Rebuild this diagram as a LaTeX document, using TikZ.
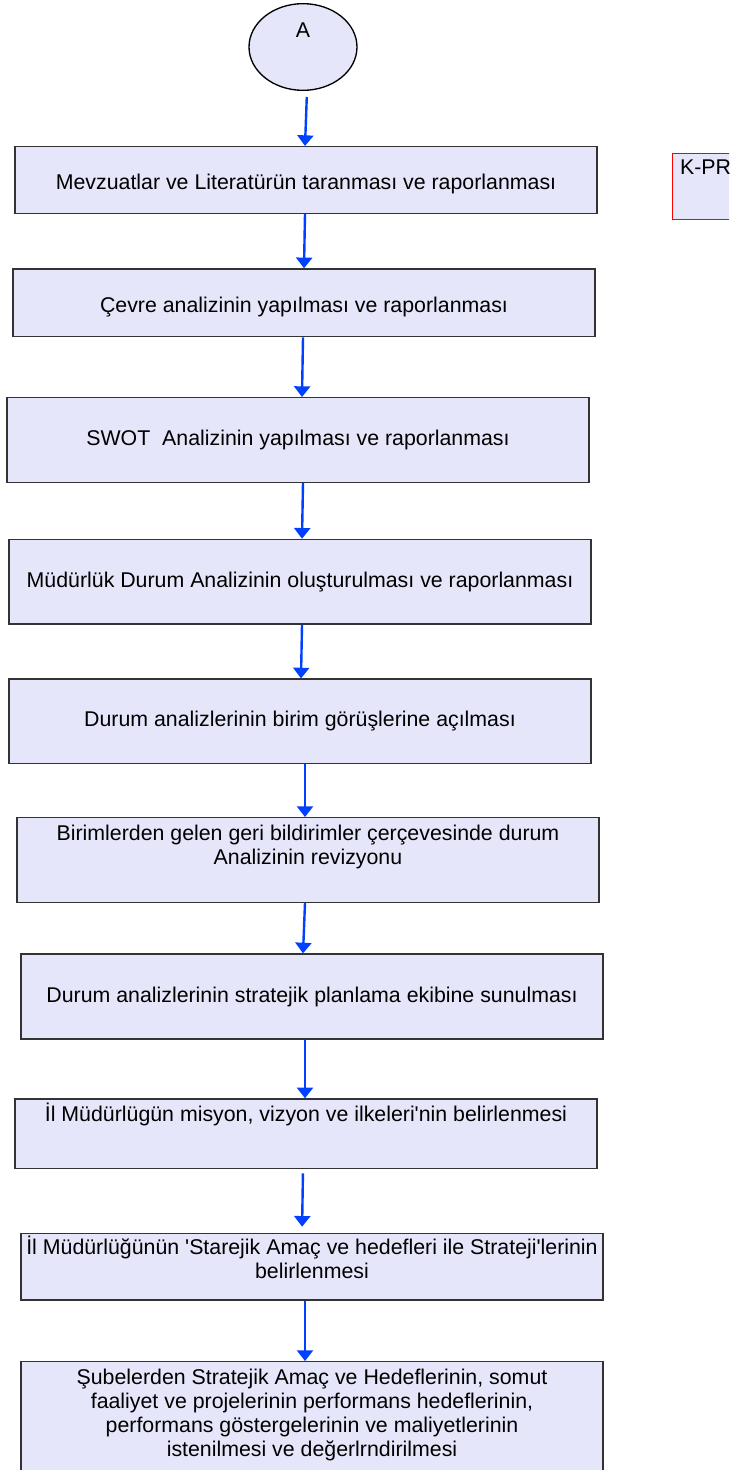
\documentclass[tikz,border=0pt]{standalone}
\usepackage{fontspec}
\setmainfont{Liberation Sans}
\usetikzlibrary{positioning,calc,arrows.meta,shapes.geometric}
\definecolor{lavbox}{RGB}{230,230,250}
\definecolor{flowblue}{RGB}{0,64,255}
\tikzset{procbox/.style={rectangle,draw=black!80,line width=1pt,fill=lavbox,minimum width=436.5pt,inner sep=0pt,align=center,font=\fontsize{16}{18}\selectfont}}
\tikzset{boxtext/.style={inner sep=0pt,align=center,font=\fontsize{16}{18}\selectfont}}
\tikzset{startnode/.style={ellipse,draw=black,line width=1pt,fill=lavbox,minimum width=81pt,minimum height=65pt}}
\tikzset{flow/.style={-{Triangle[width=12pt,length=8pt]},flowblue,line width=1.8pt}}

\begin{document}
\begin{tikzpicture}[x=0.75pt,y=-0.75pt]
  \useasboundingbox (0,0) rectangle (729,1470);
  \clip (0,0) rectangle (729,1470);

  \node[startnode] (A) at (303,47) {};
  \node[boxtext,below=15pt of A.north] (Atxt) {A};

  \node[procbox,minimum height=50pt] (b1) at (306,180) {\raisebox{-3pt}[\height][\depth]{Mevzuatlar ve Literatürün taranması ve raporlanması}};
  \node[procbox,minimum height=50.8pt] (b2) at (304,302.8) {\raisebox{-3pt}[\height][\depth]{Çevre analizinin yapılması ve raporlanması}};
  \node[procbox,minimum height=63.5pt] (b3) at (298,440) {SWOT~ Analizinin yapılması ve raporlanması};
  \node[procbox,minimum height=63.5pt] (b4) at (300,581.7) {Müdürlük Durum Analizinin oluşturulması ve raporlanması};
  \node[procbox,minimum height=63.2pt] (b5) at (300,721.2) {Durum analizlerinin birim görüşlerine açılması};
  \node[procbox,minimum height=63.5pt] (b6) at (308,860) {};
  \node[boxtext,below=5.5pt of b6.north] (t6) {Birimlerden gelen geri bildirimler çerçevesinde durum\\Analizinin revizyonu};
  \node[procbox,minimum height=63.7pt] (b7) at (312,996.5) {Durum analizlerinin stratejik planlama ekibine sunulması};
  \node[procbox,minimum height=52.3pt] (b8) at (306,1133.8) {};
  \node[boxtext,below=3pt of b8.north] (t8) {İl Müdürlügün misyon, vizyon ve ilkeleri\textquotesingle nin belirlenmesi};
  \node[procbox,minimum height=50pt] (b9) at (312,1266.7) {};
  \node[boxtext,below=2pt of b9.north] (t9) {İl Müdürlüğünün \textquotesingle Starejik Amaç ve hedefleri ile Strateji\textquotesingle lerinin\\belirlenmesi};
  \node[procbox,minimum height=95pt] (b10) at (312,1425) {};
  \node[boxtext,below=6pt of b10.north] (t10) {Şubelerden Stratejik Amaç ve Hedeflerinin, somut\\faaliyet ve projelerinin performans hedeflerinin,\\performans göstergelerinin ve maliyetlerinin\\istenilmesi ve değerlrndirilmesi};

  % yan kutu
  \node[rectangle,draw=red,line width=0.8pt,fill=lavbox,minimum width=88pt,minimum height=49.3pt] (kpr) at (731,186.2) {};
  \node[boxtext,anchor=north west,below right=5pt and 6pt of kpr.north west] (kprtxt) {K-PR};

  \draw[flow,shorten <=4.5pt] ($(A.south)+(4,0)$) -- ($(b1.north)+(-1,0)$);
  \draw[flow] ($(b1.south)+(-1,0)$) -- (b2.north);
  \draw[flow] ($(b2.south)+(-1,0)$) -- ($(b3.north)+(4,0)$);
  \draw[flow] ($(b3.south)+(5,0)$) -- ($(b4.north)+(2,0)$);
  \draw[flow] ($(b4.south)+(2,0)$) -- ($(b5.north)+(1,0)$);
  \draw[flow] ($(b5.south)+(5,0)$) -- ($(b6.north)+(-3,0)$);
  \draw[flow] ($(b6.south)+(-3,0)$) -- ($(b7.north)+(-9,0)$);
  \draw[flow] ($(b7.south)+(-7,0)$) -- ($(b8.north)+(-1,0)$);
  \draw[flow,shorten <=3pt,shorten >=4.5pt] ($(b8.south)+(-3,0)$) -- ($(b9.north)+(-10,0)$);
  \draw[flow] ($(b9.south)+(-7,0)$) -- ($(b10.north)+(-7,0)$);
\end{tikzpicture}
\end{document}
